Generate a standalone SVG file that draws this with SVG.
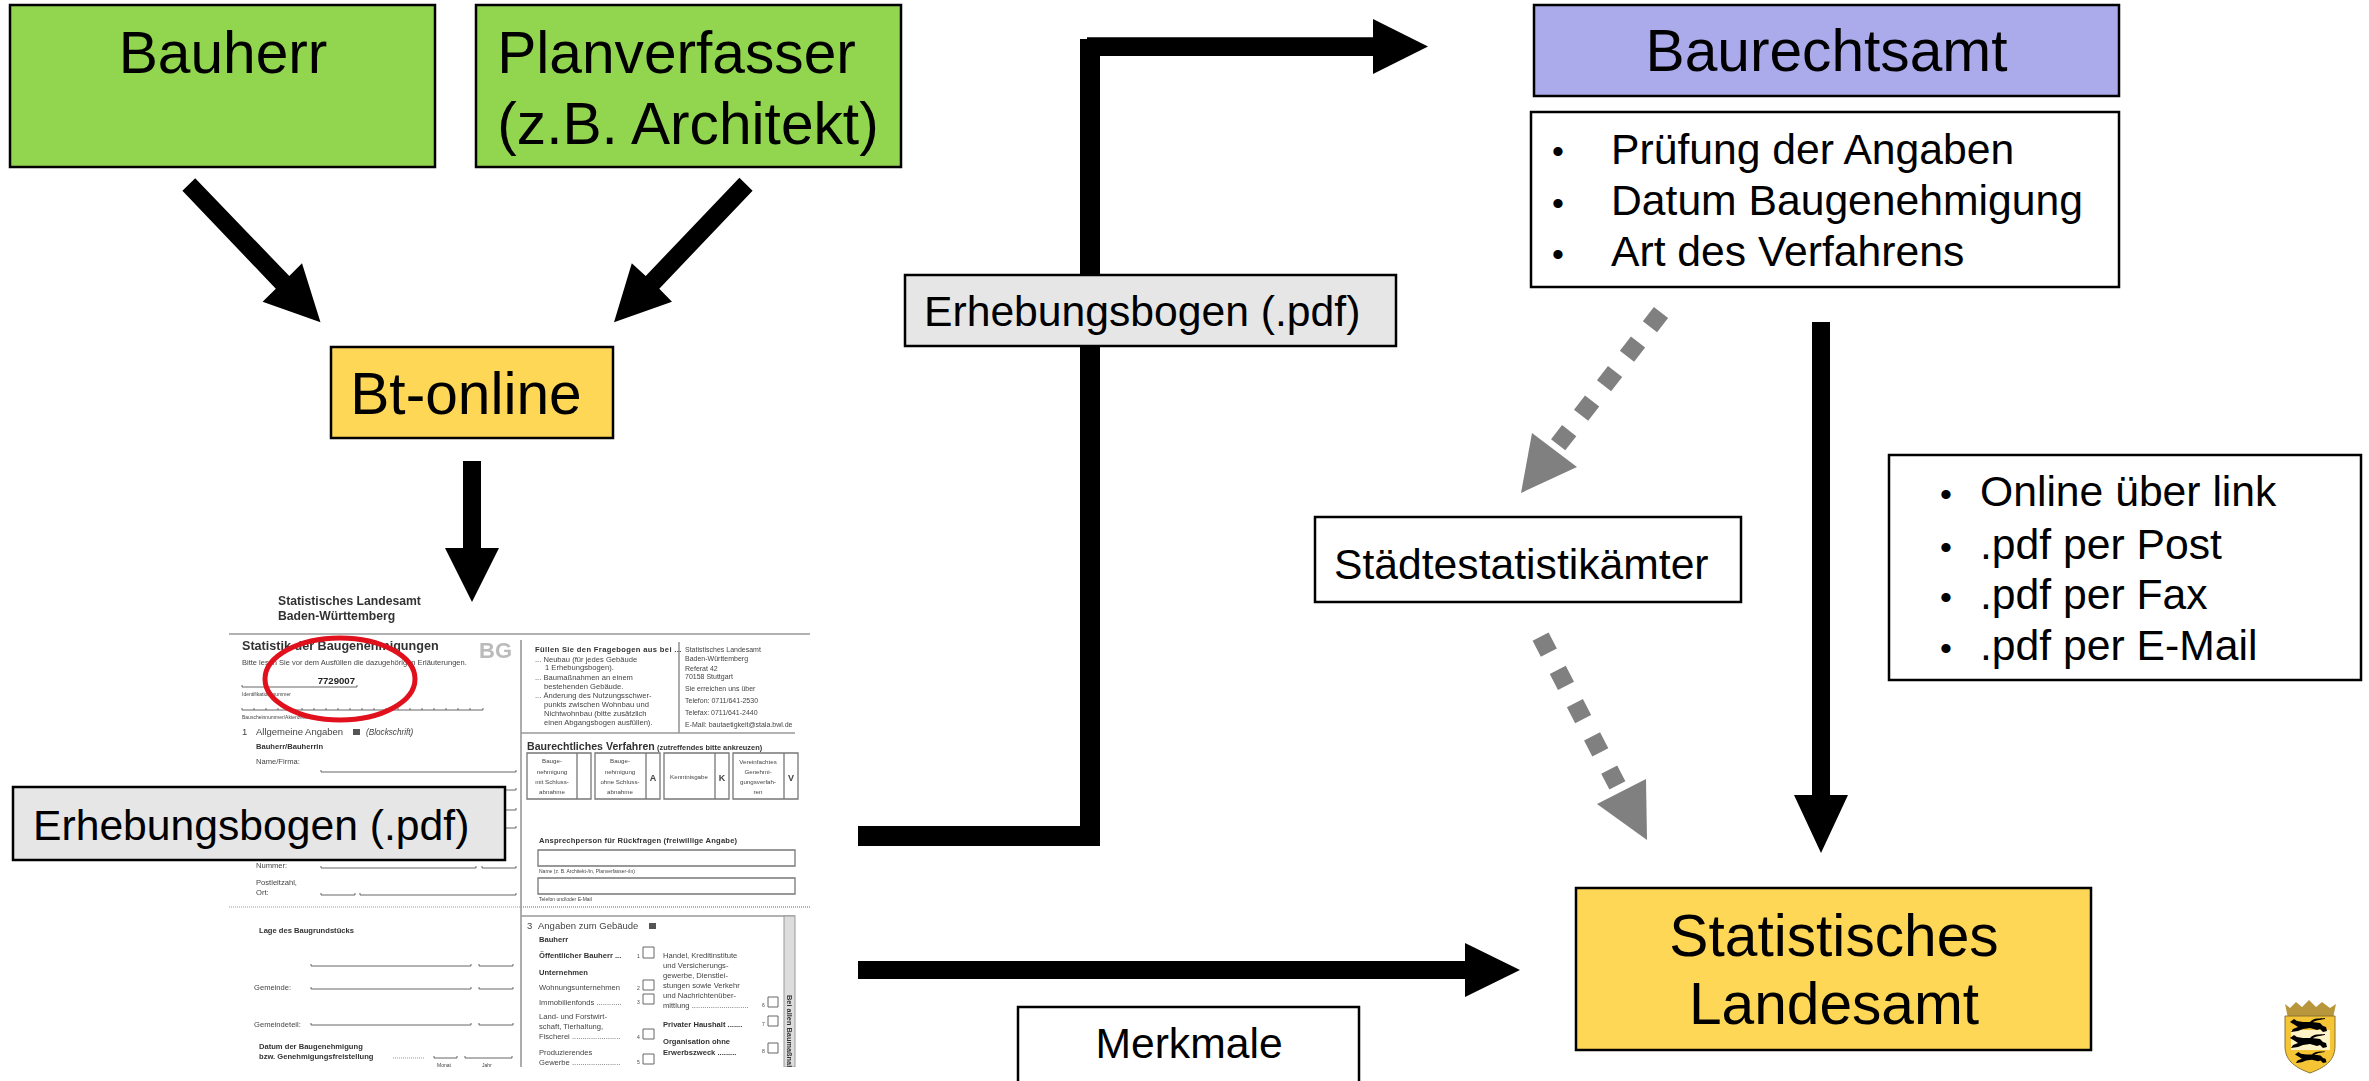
<svg xmlns="http://www.w3.org/2000/svg" width="2369" height="1081" viewBox="0 0 2369 1081">
<style>
text{font-family:"Liberation Sans",Arial,sans-serif;fill:#000}
.box{stroke:#000;stroke-width:2.5}
.t59{font-size:58.67px;text-anchor:middle}
.t43{font-size:42.67px}
.bu{font-size:34px}
.c{text-anchor:middle}
.green{fill:#92d650}.purple{fill:#ababeb}.yellow{fill:#ffd757}.grey{fill:#e6e6e6}.white{fill:#fff}
.dash{fill:none;stroke:#808080;stroke-width:18;stroke-dasharray:18 19.4}
.head{fill:#808080}
.f text{fill:#444;font-size:7.6px}
.f .b{font-weight:bold;fill:#333}
.f .s{font-size:5px}
.f .d{fill:#222}
.fl{fill:none;stroke:#666;stroke-width:1}
.fr{fill:none;stroke:#777;stroke-width:1.3}
.fd{fill:none;stroke:#999;stroke-width:1;stroke-dasharray:1 1}
.fm{fill:none;stroke:#999;stroke-width:1.6}
</style>
<defs>
<filter id="soft" x="-2%" y="-2%" width="104%" height="104%"><feGaussianBlur stdDeviation="0.4"/></filter>
<filter id="soft2" x="-5%" y="-5%" width="110%" height="110%"><feGaussianBlur stdDeviation="0.4"/></filter>
<clipPath id="fc"><rect x="220" y="580" width="600" height="487"/></clipPath>
<path id="lion" d="M0 3 L4 0 L7 2 L13 3 L22 3 L30 4 L33 7 L36 8 L37 12 L33 13 L30 10 L27 11 L20 9 L13 10 L8 12 L1 13 L3 10 L8 8 L5 6 Z M20 3 C24 -2 30 0 35 -1 L35 0 C30 1 25 1 22 4 Z"/>
</defs>

<g id="form" class="f" clip-path="url(#fc)" filter="url(#soft)">
<text class="b" x="278" y="605" style="font-size:12.2px">Statistisches Landesamt</text>
<text class="b" x="278" y="620" style="font-size:12.2px">Baden-Württemberg</text>
<path class="fm" d="M229 634H810M521 640V1067M521 733H795M679 642V733M521 916H795"/>
<text class="b" x="242" y="650" style="font-size:12.6px">Statistik der Baugenehmigungen</text>
<text x="479" y="658" style="font-size:22px;font-weight:bold;fill:#bbb">BG</text>
<text x="242" y="665" style="font-size:7.5px">Bitte lesen Sie vor dem Ausfüllen die dazugehörigen Erläuterungen.</text>
<text class="d" x="355" y="684" text-anchor="end" style="font-size:9.6px;font-weight:bold">7729007</text>
<path class="fl" d="M242 685V687H357V685M242 708V710H483M254 708V710M266 708V710M278 708V710M290 708V710M302 708V710M314 708V710M326 708V710M338 708V710M350 708V710M362 708V710M374 708V710M386 708V710M398 708V710M410 708V710M422 708V710M434 708V710M446 708V710M458 708V710M470 708V710M483 708V710"/>
<text class="s" x="242" y="696">Identifikationsnummer</text>
<text class="s" x="242" y="719">Bauscheinnummer/Aktenzeichen</text>
<text x="242" y="735" style="font-size:9.5px">1</text>
<text x="256" y="735" style="font-size:9.5px">Allgemeine Angaben</text>
<rect x="353" y="729" width="7" height="6" fill="#555"/>
<text x="366" y="735" style="font-size:8.2px;font-style:italic">(Blockschrift)</text>
<text class="b" x="256" y="749">Bauherr/Bauherrin</text>
<text x="256" y="764">Name/Firma:</text>
<path class="fl" d="M321 770V772H516V770M506 790H516V788M506 810H516V808M506 828H516V826M321 866V868H476V866M482 866V868H516V866M321 893V895H355V893M360 893V895H516V893M311 964V966H471V964M479 964V966H513V964M311 987V989H471V987M479 987V989H513V987M311 1023V1025H471V1023M479 1023V1025H513V1023M434 1056V1058H457V1056M465 1056V1058H512V1056"/>
<text x="256" y="868">Nummer:</text>
<text x="256" y="885">Postleitzahl,</text>
<text x="256" y="895">Ort:</text>
<path class="fd" d="M229 907H810"/>
<text class="b" x="259" y="933">Lage des Baugrundstücks</text>
<text x="254" y="990">Gemeinde:</text>
<text x="254" y="1027">Gemeindeteil:</text>
<text class="b" x="259" y="1049">Datum der Baugenehmigung</text>
<text class="b" x="259" y="1059">bzw. Genehmigungsfreistellung</text>
<path class="fd" d="M393 1058H425"/>
<text class="s" x="437" y="1067">Monat</text>
<text class="s" x="482" y="1067">Jahr</text>

<text class="b" x="535" y="652" style="letter-spacing:.35px">Füllen Sie den Fragebogen aus bei ...</text>
<text x="535" y="662">... Neubau (für jedes Gebäude</text>
<text x="545" y="670">1 Erhebungsbogen).</text>
<text x="535" y="680">... Baumaßnahmen an einem</text>
<text x="544" y="689">bestehenden Gebäude.</text>
<text x="535" y="698">... Änderung des Nutzungsschwer-</text>
<text x="544" y="707">punkts zwischen Wohnbau und</text>
<text x="544" y="716">Nichtwohnbau (bitte zusätzlich</text>
<text x="544" y="725">einen Abgangsbogen ausfüllen).</text>
<text x="685" y="652" style="font-size:7px">Statistisches Landesamt</text>
<text x="685" y="661" style="font-size:7px">Baden-Württemberg</text>
<text x="685" y="671" style="font-size:7px">Referat 42</text>
<text x="685" y="679" style="font-size:7px">70158 Stuttgart</text>
<text x="685" y="691" style="font-size:7px">Sie erreichen uns über</text>
<text x="685" y="703" style="font-size:7px">Telefon: 0711/641-2530</text>
<text x="685" y="715" style="font-size:7px">Telefax: 0711/641-2440</text>
<text x="685" y="727" style="font-size:7px">E-Mail:  bautaetigkeit@stala.bwl.de</text>
<text class="b" x="527" y="750" style="font-size:10.6px">Baurechtliches Verfahren</text>
<text class="b" x="657" y="750" style="font-size:7.4px">(zutreffendes bitte ankreuzen)</text>
<path class="fr" d="M527 753H591V799H527ZM577 753V799M595 753H660V799H595ZM646 753V799M664 753H729V799H664ZM715 753V799M733 753H798V799H733ZM784 753V799"/>
<g text-anchor="middle">
<text x="552" y="763" style="font-size:6.2px">Bauge-</text><text x="552" y="774" style="font-size:6.2px">nehmigung</text><text x="552" y="784" style="font-size:6.2px">mit Schluss-</text><text x="552" y="794" style="font-size:6.2px">abnahme</text>
<text x="620" y="763" style="font-size:6.2px">Bauge-</text><text x="620" y="774" style="font-size:6.2px">nehmigung</text><text x="620" y="784" style="font-size:6.2px">ohne Schluss-</text><text x="620" y="794" style="font-size:6.2px">abnahme</text>
<text x="653" y="781" style="font-size:9px;font-weight:bold">A</text>
<text x="689" y="779" style="font-size:6.2px">Kenntnisgabe</text>
<text x="722" y="781" style="font-size:9px;font-weight:bold">K</text>
<text x="758" y="764" style="font-size:6.2px">Vereinfachtes</text><text x="758" y="774" style="font-size:6.2px">Genehmi-</text><text x="758" y="784" style="font-size:6.2px">gungsverfah-</text><text x="758" y="794" style="font-size:6.2px">ren</text>
<text x="791" y="781" style="font-size:9px;font-weight:bold">V</text>
</g>
<text class="b" x="539" y="843" style="letter-spacing:.2px">Ansprechperson für Rückfragen (freiwillige Angabe)</text>
<path class="fr" d="M538 850H795V866H538ZM538 878H795V894H538Z"/>
<text class="s" x="539" y="873">Name (z. B. Architekt-/in, Planverfasser-/in)</text>
<text class="s" x="539" y="901">Telefon und/oder E-Mail</text>
<path class="fd" d="M521 907H810"/>
<rect x="784" y="916" width="11" height="151" fill="#ddd" stroke="#999"/>
<text class="b" transform="translate(787 995) rotate(90)" style="font-size:7.4px">Bei allen Baumaßnahmen</text>
<text x="527" y="929" style="font-size:9.5px">3</text>
<text x="538" y="929" style="font-size:9.5px">Angaben zum Gebäude</text>
<rect x="649" y="923" width="7" height="6" fill="#555"/>
<text class="b" x="539" y="942">Bauherr</text>
<text class="b" x="539" y="958">Öffentlicher Bauherr ...</text>
<text class="b" x="539" y="975">Unternehmen</text>
<text x="539" y="990">Wohnungsunternehmen</text>
<text x="539" y="1005">Immobilienfonds ............</text>
<text x="539" y="1019">Land- und Forstwirt-</text>
<text x="539" y="1029">schaft, Tierhaltung,</text>
<text x="539" y="1039">Fischerei .......................</text>
<text x="539" y="1055">Produzierendes</text>
<text x="539" y="1065">Gewerbe .......................</text>
<text x="663" y="958">Handel, Kreditinstitute</text>
<text x="663" y="968">und Versicherungs-</text>
<text x="663" y="978">gewerbe, Dienstlei-</text>
<text x="663" y="988">stungen sowie Verkehr</text>
<text x="663" y="998">und Nachrichtenüber-</text>
<text x="663" y="1008">mittlung ...........................</text>
<text class="b" x="663" y="1027">Privater Haushalt .......</text>
<text class="b" x="663" y="1044">Organisation ohne</text>
<text class="b" x="663" y="1055">Erwerbszweck .........</text>
<path class="fl" d="M643 947H654V958H643ZM643 980H654V990H643ZM643 994H654V1004H643ZM643 1029H654V1039H643ZM643 1054H654V1064H643ZM768 997H778V1007H768ZM768 1016H778V1026H768ZM768 1043H778V1053H768Z"/>
<g><text class="s" x="637" y="958">1</text><text class="s" x="637" y="990">2</text><text class="s" x="637" y="1004">3</text><text class="s" x="637" y="1039">4</text><text class="s" x="637" y="1064">5</text><text class="s" x="762" y="1007">6</text><text class="s" x="762" y="1026">7</text><text class="s" x="762" y="1053">8</text></g>
</g>
<ellipse id="marking" cx="340" cy="679" rx="75" ry="41" fill="none" stroke="#e0101c" stroke-width="5"/>

<g id="connectors">
<polygon points="182.4,190.7 195.2,178.3 289.3,276 302,263.3 320.5,322.3 262.6,301.7 275.8,288.7"/>
<polygon points="739.4,177.7 752.6,190.7 659.3,288.7 672,301.7 614,322.3 631.8,263.3 645.7,276"/>
<polygon points="463,461 481,461 481,548 499,548 472,602 445,548 463,548"/>
<polygon points="858,826 1080,826 1080,39 1087,39 1087,37.3 1373,37.3 1373,19 1428,46.5 1373,74 1373,56 1100,56 1100,846 858,846"/>
<polygon points="858,961 1465,961 1465,943 1520,970 1465,997 1465,979 858,979"/>
<polygon points="1812,322 1830,322 1830,795 1848,795 1821,853 1794,795 1812,795"/>
<path class="dash" d="M1661 312.5L1558 445"/>
<polygon class="head" points="1521,493 1532,433 1577,467"/>
<path class="dash" d="M1540.6 636.6L1617.4 785.4"/>
<polygon class="head" points="1647,840 1646,779 1597,804"/>
</g>

<g id="bauherr"><rect class="box green" x="10" y="5" width="425" height="162"/><text class="t59" x="223" y="73">Bauherr</text></g>
<g id="planverfasser"><rect class="box green" x="476" y="5" width="425" height="162"/><text class="t59" x="676.5" y="73">Planverfasser</text><text class="t59" x="688" y="144">(z.B. Architekt)</text></g>
<g id="bt-online"><rect class="box yellow" x="331" y="347" width="282" height="91"/><text class="t59" x="466" y="414">Bt-online</text></g>
<g id="erhebungsbogen-links"><rect class="box grey" x="13" y="787" width="492" height="73"/><text class="t43" x="33" y="840">Erhebungsbogen (.pdf)</text></g>
<g id="erhebungsbogen-rechts"><rect class="box grey" x="905" y="275" width="491" height="71"/><text class="t43" x="924" y="326">Erhebungsbogen (.pdf)</text></g>
<g id="baurechtsamt"><rect class="box purple" x="1534" y="5" width="585" height="91"/><text class="t59" x="1826.5" y="71">Baurechtsamt</text></g>
<g id="pruefung"><rect class="box white" x="1531" y="112" width="588" height="175"/>
<text class="bu" x="1552" y="163">•</text><text class="t43" x="1611" y="164">Prüfung der Angaben</text>
<text class="bu" x="1552" y="215">•</text><text class="t43" x="1611" y="215">Datum Baugenehmigung</text>
<text class="bu" x="1552" y="266">•</text><text class="t43" x="1611" y="266">Art des Verfahrens</text></g>
<g id="staedtestatistik"><rect class="box white" x="1315" y="517" width="426" height="85"/><text class="t43" x="1334" y="579">Städtestatistikämter</text></g>
<g id="uebermittlung"><rect class="box white" x="1889" y="455" width="472" height="225"/>
<text class="bu" x="1940" y="506">•</text><text class="t43" x="1980" y="506">Online über link</text>
<text class="bu" x="1940" y="559">•</text><text class="t43" x="1980" y="559">.pdf per Post</text>
<text class="bu" x="1940" y="609">•</text><text class="t43" x="1980" y="609">.pdf per Fax</text>
<text class="bu" x="1940" y="660">•</text><text class="t43" x="1980" y="660">.pdf per E-Mail</text></g>
<g id="landesamt"><rect class="box yellow" x="1576" y="888" width="515" height="162"/><text class="t59" x="1834" y="956">Statistisches</text><text class="t59" x="1834" y="1024">Landesamt</text></g>
<g id="merkmale"><rect class="box white" x="1018" y="1007" width="341" height="80"/><text class="t43 c" x="1189" y="1058">Merkmale</text></g>

<g id="wappen" filter="url(#soft2)">
<path d="M2285 1004L2288 1018H2333L2336 1004L2330 1008L2322 1002L2316 1007L2309 1000L2302 1007L2296 1002L2290 1008Z" fill="#b8963a"/>
<path d="M2285 1016H2335V1046C2335 1062 2323 1068 2310 1073C2297 1068 2285 1062 2285 1046Z" fill="#f6c535" stroke="#8a7330" stroke-width="1"/>
<path d="M2291 1030H2330V1050H2291Z" fill="#fff4c8"/>
<use href="#lion" x="2290" y="1019"/><use href="#lion" x="2290" y="1035"/><use href="#lion" transform="translate(2295 1052) scale(.85)"/>
</g>
</svg>
